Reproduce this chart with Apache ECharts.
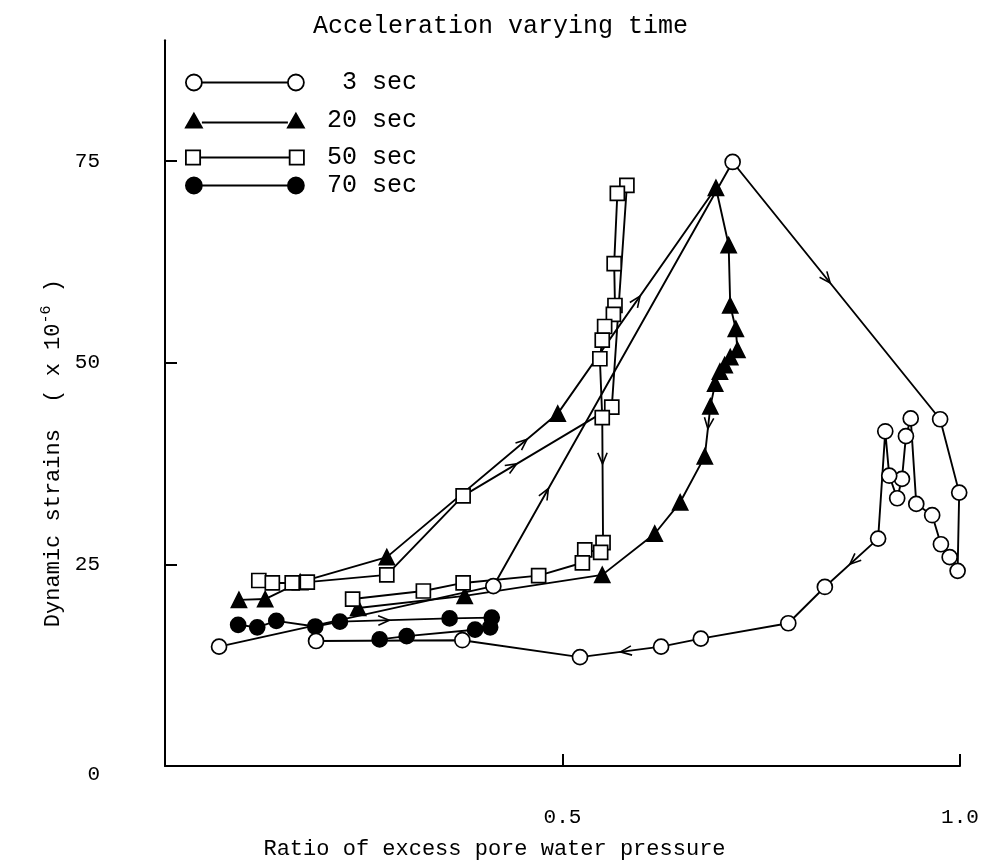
<!DOCTYPE html>
<html><head><meta charset="utf-8">
<script src="https://cdn.jsdelivr.net/npm/echarts@6/dist/echarts.min.js"></script>
<style>html,body{margin:0;padding:0;background:#fff}#c{width:988px;height:865px}</style>
</head><body><div id="c"></div>
<script>
// ---- data ----
const seriesNames = ['3 sec', '20 sec', '50 sec', '70 sec'];

const x3 = [0.068,0.413,0.714,0.975,0.999,0.997,0.987,0.976,0.965,0.945,0.938,0.932,0.927,0.921,0.911,0.906,0.897,0.830,0.784,0.674,0.624,0.522,0.374,0.190];
const y3 = [14.8,22.3,74.9,43.0,33.9,24.2,25.9,27.5,31.1,32.5,43.1,40.9,35.6,33.2,36.0,41.5,28.2,22.2,17.7,15.8,14.8,13.5,15.6,15.5];

const x20 = [0.093,0.126,0.170,0.279,0.494,0.693,0.709,0.711,0.718,0.720,0.711,0.704,0.698,0.692,0.686,0.679,0.648,0.616,0.550,0.377,0.243];
const y20 = [20.6,20.7,22.8,25.9,43.7,71.7,64.6,57.1,54.2,51.6,50.7,49.7,48.9,47.4,44.6,38.4,32.7,28.8,23.7,21.1,19.6];

const x50 = [0.118,0.135,0.160,0.179,0.279,0.375,0.562,0.581,0.569,0.565,0.566,0.564,0.553,0.550,0.547,0.550,0.551,0.548,0.528,0.525,0.470,0.375,0.325,0.236];
const y50 = [23.0,22.7,22.7,22.8,23.7,33.5,44.5,72.0,71.0,62.3,57.1,56.0,54.5,52.8,50.5,43.2,27.7,26.5,26.8,25.2,23.6,22.7,21.7,20.7];

const x70 = [0.092,0.116,0.140,0.189,0.220,0.358,0.411,0.409,0.390,0.304,0.270];
const y70 = [17.5,17.2,18.0,17.3,17.9,18.3,18.4,17.2,16.9,16.1,15.7];

// direction arrows: [series index, segment start index, fraction along segment]
const arrowSpecs = [[0,1,0.23],[0,2,0.47],[0,16,0.53],[0,20,0.5],[1,3,0.82],[1,4,0.52],[1,14,0.45],[2,5,0.36],[2,15,0.37],[3,4,0.45]];

const xTickValues = [0.5, 1.0];
const yTickValues = [25, 50, 75];
const yLabelValues = [0, 25, 50, 75];

// ---- build ----
const FONT = 'Liberation Mono';
const xs = [x3, x20, x50, x70];
const ys = [y3, y20, y50, y70];
const pairs = xs.map((xa, k) => xa.map((v, i) => [v, ys[k][i]]));

const symbols = ['circle', 'triangle', 'rect', 'circle'];
const symbolSizes = [15, 15, 14, 15];
const fills = ['#fff', '#000', '#fff', '#000'];

const icons = [
  'path://M0,8 A8,8 0 1,1 16,8 A8,8 0 1,1 0,8 Z M16,8 L102,8 M102,8 A8,8 0 1,1 118,8 A8,8 0 1,1 102,8 Z',
  'path://M0,15 L8,1 L16,15 Z M16,10 L102,10 M102,15 L110,1 L118,15 Z',
  'path://M1,1 L15,1 L15,15 L1,15 Z M15,8 L103,8 M103,1 L117,1 L117,15 L103,15 Z',
  'path://M0,8 A8,8 0 1,1 16,8 A8,8 0 1,1 0,8 Z M16,8 L102,8 M102,8 A8,8 0 1,1 118,8 A8,8 0 1,1 102,8 Z'
];
const legendTops = [70, 108, 145, 173];

const arrowData = arrowSpecs.map(([s, i, t]) => [xs[s][i], ys[s][i], xs[s][i + 1], ys[s][i + 1], t]);

const order = [3, 1, 2, 0];
const lineSeries = order.map(k => ({
  name: seriesNames[k],
  type: 'line',
  data: pairs[k],
  symbol: symbols[k],
  symbolSize: symbolSizes[k],
  showSymbol: true,
  lineStyle: { color: '#000', width: 1.9 },
  itemStyle: { color: fills[k], borderColor: '#000', borderWidth: 1.7 },
  emphasis: { disabled: true },
  clip: false
}));

const chart = echarts.init(document.getElementById('c'), null, { renderer: 'canvas' });
chart.setOption({
  animation: false,
  backgroundColor: '#fff',
  title: {
    text: 'Acceleration varying time',
    left: 308, top: 9,
    textStyle: { fontFamily: FONT, fontSize: 25, fontWeight: 'normal', color: '#000' }
  },
  legend: seriesNames.map((n, i) => ({
    data: [n],
    left: 185, top: legendTops[i], padding: 0,
    itemWidth: 118, itemHeight: 16,
    icon: icons[i],
    selectedMode: false,
    formatter: name => (name.length < 6 ? ' ' + name : name),
    itemStyle: { borderColor: '#000', borderWidth: 1.8 },
    textStyle: { fontFamily: FONT, fontSize: 25, color: '#000', padding: [0, 0, 0, 18] }
  })),
  grid: { left: 165, right: 28, top: 40.2, bottom: 92.2 },
  xAxis: {
    type: 'value', min: 0, max: 1,
    name: 'Ratio of excess pore water pressure',
    nameLocation: 'middle', nameGap: 72,
    nameTextStyle: { fontFamily: FONT, fontSize: 22, color: '#000', padding: [0, 136, 0, 0] },
    axisLine: { show: true, lineStyle: { color: '#000', width: 2 } },
    axisTick: { show: true, inside: true, length: 12, customValues: xTickValues, lineStyle: { color: '#000', width: 2 } },
    axisLabel: { customValues: xTickValues, margin: 41, fontFamily: FONT, fontSize: 21, color: '#000', formatter: v => v.toFixed(1) },
    splitLine: { show: false }
  },
  yAxis: {
    type: 'value', min: 0, max: 90,
    name: 'Dynamic strains  ( x 10{s|-6} )',
    nameLocation: 'middle', nameGap: 84, nameRotate: 90,
    nameTextStyle: {
      fontFamily: FONT, fontSize: 22, color: '#000', padding: [0, 100, 0, 0],
      rich: { s: { fontFamily: FONT, fontSize: 15, color: '#000', padding: [0, 0, 14, 0] } }
    },
    axisLine: { show: true, onZero: false, lineStyle: { color: '#000', width: 2 } },
    axisTick: { show: true, inside: true, length: 12, customValues: yTickValues, lineStyle: { color: '#000', width: 2 } },
    axisLabel: {
      customValues: yLabelValues, margin: 65, fontFamily: FONT, fontSize: 21, color: '#000',
      formatter: v => (v === 0 ? '{d|0}' : String(v)),
      rich: { d: { fontFamily: FONT, fontSize: 21, color: '#000', padding: [16, 0, 0, 0] } }
    },
    splitLine: { show: false }
  },
  series: lineSeries.concat([{
    type: 'custom',
    name: 'arrows',
    z: 10,
    silent: true,
    encode: { x: [0, 2], y: [1, 3] },
    data: arrowData,
    renderItem: function (params, api) {
      const p1 = api.coord([api.value(0), api.value(1)]);
      const p2 = api.coord([api.value(2), api.value(3)]);
      const t = api.value(4);
      const dx = p2[0] - p1[0], dy = p2[1] - p1[1];
      const len = Math.hypot(dx, dy) || 1;
      const ux = dx / len, uy = dy / len;
      const tx = p1[0] + dx * t, ty = p1[1] + dy * t;
      const L = 12, a = 0.4, c = Math.cos(a), s = Math.sin(a);
      const bx = -ux, by = -uy;
      const a1 = [tx + L * (bx * c - by * s), ty + L * (bx * s + by * c)];
      const a2 = [tx + L * (bx * c + by * s), ty + L * (-bx * s + by * c)];
      return { type: 'polyline', shape: { points: [a1, [tx, ty], a2] }, style: { stroke: '#000', fill: null, lineWidth: 1.6 } };
    }
  }])
});
</script>
</body></html>
